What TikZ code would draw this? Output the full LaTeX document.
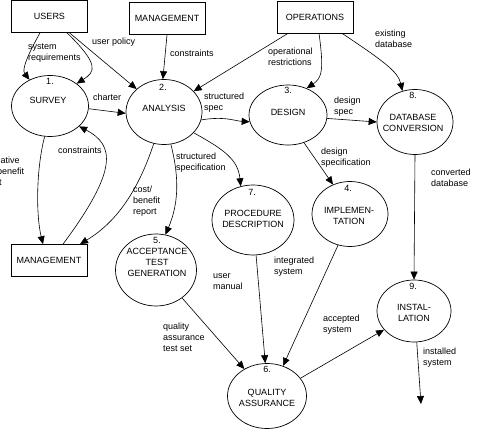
\documentclass[tikz,border=0pt]{standalone}
\usepackage{fontspec}
\setmainfont{Liberation Sans}
\usetikzlibrary{arrows.meta,shapes.geometric,calc}
\begin{document}
\begin{tikzpicture}[x=1pt,y=-1pt,
  every node/.style={font=\fontsize{9}{11}\selectfont, inner sep=0pt},
  box/.style={draw, line width=0.7pt, minimum width=76pt, minimum height=32pt},
  proc/.style={draw, ellipse, line width=0.7pt},
  lbl/.style={align=left, anchor=west},
  flow/.style={line width=0.6pt, -{Triangle[length=8pt,width=7pt]}},
]
\useasboundingbox (0,0) rectangle (479,430);

% external entities
\node[box] (users) at (49.5,16.5) {USERS};
\node[box] (mgmt) at (167,18.5) {MANAGEMENT};
\node[box] (ops) at (315,17) {OPERATIONS};
\node[box] (mgmt2) at (49,260.5) {MANAGEMENT};

% processes
\node[proc, minimum width=77pt, minimum height=61pt] (e1) at (50,106) {};
\node[proc, minimum width=76pt, minimum height=65pt] (e2) at (164,112) {};
\node[proc, minimum width=78pt, minimum height=60pt] (e3) at (288,115) {};
\node[proc, minimum width=76pt, minimum height=65pt] (e8) at (415,122) {};
\node[proc, minimum width=76pt, minimum height=65pt] (e4) at (350,214) {};
\node[proc, minimum width=82pt, minimum height=70pt] (e7) at (253,220) {};
\node[proc, minimum width=81pt, minimum height=72pt] (e5) at (156,270) {};
\node[proc, minimum width=79pt, minimum height=65pt] (e6) at (267,396) {};
\node[proc, minimum width=74pt, minimum height=62pt] (e9) at (414,311) {};

% process texts
\node (n1) at (50,81) {1.};
\node (t1) at (48,100) {SURVEY};
\node (n2) at (163,87) {2.};
\node (t2) at (164,108) {ANALYSIS};
\node (n3) at (288,90) {3.};
\node (t3) at (288,112) {DESIGN};
\node (n8) at (413,95) {8.};
\node[align=center] (t8) at (413,122.5) {DATABASE\\CONVERSION};
\node (n4) at (348,188) {4.};
\node[align=center] (t4) at (349,215.5) {IMPLEMEN-\\TATION};
\node (n7) at (252,192) {7.};
\node[align=center] (t7) at (253,218.5) {PROCEDURE\\DESCRIPTION};
\node (n5) at (157,240) {5.};
\node[align=center] (t5) at (157,262) {ACCEPTANCE\\TEST\\GENERATION};
\node (n6) at (267,369) {6.};
\node[align=center] (t6) at (267,397.5) {QUALITY\\ASSURANCE};
\node (n9) at (413,286) {9.};
\node[align=center] (t9) at (414,312.5) {INSTAL-\\LATION};

% flows
\draw[flow] ([xshift=-9.5pt]users.south) .. controls (26,58) and (22,70) .. (e1.128);
\draw[flow] ([xshift=17.5pt]users.south) .. controls (100,65) and (95,72) .. (e1.40);
\draw[flow] ([xshift=20pt]users.south) -- (e2.140);
\draw[flow] (mgmt.south) -- (e2.92);
\draw[flow] ([xshift=-27pt]ops.south) -- (e2.35);
\draw[flow] ([xshift=4pt]ops.south) .. controls (324,70) and (322,78) .. (e3.55);
\draw[flow] ([xshift=27pt]ops.south) .. controls (385,62) and (398,72) .. (e8.112);
\draw[flow] (e1.-4) -- (e2.182);
\draw[flow] (e2.-12) .. controls (225,116) and (235,121) .. (e3.190);
\draw[flow] (e3.-5) -- (e8.west);
\draw[flow] (e3.-60) -- (e4.120);
\draw[flow] (e8.south) -- (e9.north);
\draw[flow] (e1.-100) .. controls (36,170) and (36,215) .. ([xshift=-6pt]mgmt2.north);
\draw[flow] ([xshift=14pt]mgmt2.north) .. controls (118,170) and (115,145) .. (e1.-35);
\draw[flow] (e2.-108) .. controls (140,185) and (120,220) .. ([xshift=31pt]mgmt2.north);
\draw[flow] (e2.-78) .. controls (180,180) and (178,205) .. (e5.75);
\draw[flow] (e2.-35) .. controls (225,150) and (238,160) .. (e7.110);
\draw[flow] (e5.-47) -- (e6.130);
\draw[flow] (e7.-85) -- (e6.93);
\draw[flow] (e4.-111) -- (e6.62);
\draw[flow] (e6.28) -- (e9.212);
\coordinate (out) at (421,404);
\draw[flow] (e9.-85) -- (out);

% flow labels
\node[lbl] (l1) at (28,53.5) {system\\requirements};
\node[lbl] (l2) at (92,42) {user policy};
\node[lbl] (l3) at (170,53) {constraints};
\node[lbl] (l4) at (93,97) {charter};
\node[lbl] (l5) at (204,102.5) {structured\\spec};
\node[lbl] (l6) at (268,57) {operational\\restrictions};
\node[lbl] (l7) at (375,39) {existing\\database};
\node[lbl] (l8) at (334,106.5) {design\\spec};
\node[lbl] (l9) at (321,158) {design\\specification};
\node[lbl] (l10) at (431,178) {converted\\database};
\node[lbl] (l11) at (58,150) {constraints};
\node[lbl] (l12) at (-22,172) {alternative\\cost/benefit\\report};
\node[lbl] (l13) at (133,201) {cost/\\benefit\\report};
\node[lbl] (l14) at (176,162.5) {structured\\specification};
\node[lbl] (l15) at (213,281.5) {user\\manual};
\node[lbl] (l16) at (274,266.5) {integrated\\system};
\node[lbl] (l17) at (163,337) {quality\\assurance\\test set};
\node[lbl] (l18) at (323,324.5) {accepted\\system};
\node[lbl] (l19) at (423,357.5) {installed\\system};
\end{tikzpicture}
\end{document}
